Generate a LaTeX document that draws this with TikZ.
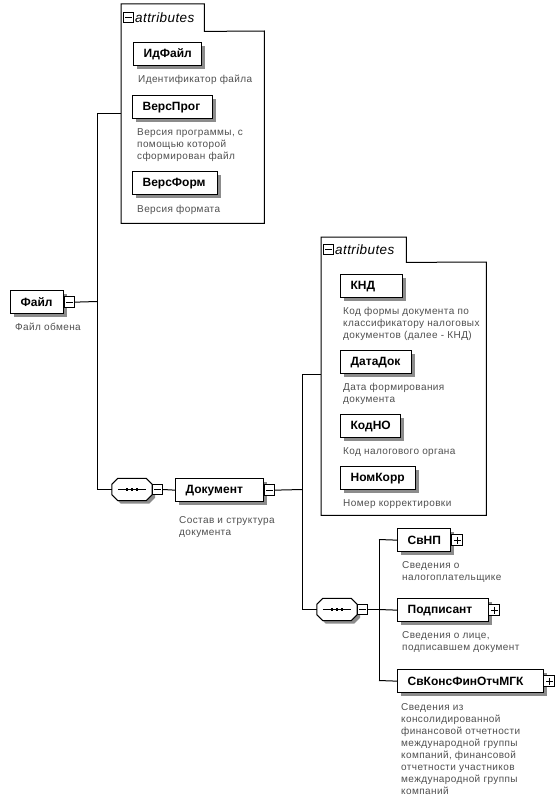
\documentclass[tikz,border=0pt]{standalone}
\usepackage{fontspec}
\setmainfont{Liberation Sans}
\newfontfamily\descfont[LetterSpace=4]{Liberation Sans}
\newfontfamily\tabfont[LetterSpace=3]{Liberation Sans}
\usetikzlibrary{shapes.misc,shadows}
\definecolor{desccol}{HTML}{505050}
\tikzset{
  shad/.style={drop shadow={shadow xshift=3pt, shadow yshift=-3pt, fill=black!45, opacity=1}},
  elem/.style={draw=black, line width=1.3pt, fill=white, anchor=north west,
    minimum height=23pt, inner xsep=10pt, inner ysep=0pt, text width=#1, align=left,
    font=\fontsize{12}{14}\selectfont\bfseries, shad},
  desc/.style={anchor=north west, inner sep=0pt, align=left, text=desccol,
    font=\descfont\fontsize{10}{12}\selectfont},
  sqm/.style={draw=black, line width=0.9pt, fill=white, minimum size=10.5pt, inner sep=0pt,
    path picture={\draw[line width=1.1pt] ([xshift=2pt]path picture bounding box.west) -- ([xshift=-2pt]path picture bounding box.east);}},
  sqp/.style={draw=black, line width=0.9pt, fill=white, minimum size=11pt, inner sep=0pt,
    path picture={\draw[line width=1.1pt] ([xshift=2pt]path picture bounding box.west) -- ([xshift=-2pt]path picture bounding box.east);
      \draw[line width=1.1pt] ([yshift=-2pt]path picture bounding box.north) -- ([yshift=2pt]path picture bounding box.south);}},
  seqbox/.style={rectangle, minimum width=40pt, minimum height=22pt, inner sep=0pt},
  seqline/.style={draw=black, line width=1pt, fill=white, shad},
  frame/.style={line width=1pt, draw=black},
  conn/.style={line width=1pt, draw=black},
  tabtext/.style={anchor=west, inner sep=0pt, font=\tabfont\fontsize{13.5}{15}\selectfont\itshape},
  area/.style={anchor=north west, inner sep=0pt},
}
\newcommand\seqshape[1]{%
  \path[seqline] ([xshift=6pt]#1.north west) -- ([xshift=-6pt]#1.north east)
    -- ([yshift=-6pt]#1.north east) -- ([yshift=6pt]#1.south east)
    -- ([xshift=-6pt]#1.south east) -- ([xshift=6pt]#1.south west)
    -- ([yshift=6pt]#1.south west) -- ([yshift=-6pt]#1.north west) -- cycle;
  \draw[line width=0.8pt] ([xshift=6pt]#1.west) -- ([xshift=-6pt]#1.east);
  \foreach \d in {-5,0,5} \fill ([xshift=\d pt]#1.center) +(-1.4,-1.5) rectangle +(1.4,1.5);}
\begin{document}
\begin{tikzpicture}[x=1pt,y=-1pt]
\useasboundingbox[fill=white] (0,0) rectangle (558,808);

% ---------- attributes box 1 ----------
\node[area, minimum width=83pt, minimum height=27pt] (tab1) at (121,4) {};
\node[area, minimum width=143pt, minimum height=192pt] (body1) at (121,31) {};
\draw[frame] (tab1.south west) -- (tab1.north west) -- (tab1.north east) -- (tab1.south east)
  -- (body1.north east) -- (body1.south east) -- (body1.south west) -- cycle;
\node[sqm] (tm1) at (128.5,17.5) {};
\node[tabtext] (tt1) at (135,17.5) {attributes};

\node[elem=48pt] (idf) at (133,42) {ИдФайл};
\node[desc] (didf) at (138,74) {\strut Идентификатор файла};
\node[elem=60pt] (vprog) at (132,95) {ВерсПрог};
\node[desc] (dvprog) at (137,127) {\strut Версия программы, с\\помощью которой\\сформирован файл};
\node[elem=65pt] (vform) at (132,171) {ВерсФорм};
\node[desc] (dvform) at (137,204) {\strut Версия формата};

% ---------- root ----------
\node[elem=33pt] (file) at (10,290) {Файл};
\node[sqm] (fm) at ([xshift=5pt]file.east) {};
\node[desc] (dfile) at (15,322) {\strut Файл обмена};

\coordinate (t1top) at (97,113);
\coordinate (t1mid) at (97,301.5);
\coordinate (t1bot) at (97,489.5);
\draw[conn] (t1top) -- (t1bot);
\draw[conn] (t1top) -- (t1top -| body1.west);
\draw[conn] (fm.east) -- (t1mid);

% ---------- sequence 1 and Документ ----------
\node[seqbox] (s1) at (132,489.5) {};
\seqshape{s1}
\node[sqm] (s1m) at (157.5,489.5) {};
\draw[conn] (t1bot) -- (s1.west);
\node[elem=68pt] (doc) at (175,478) {Документ};
\node[sqm] (docm) at ([xshift=5pt]doc.east) {};
\draw[conn] (s1m.east) -- (doc.west);
\node[desc] (ddoc) at (179,515) {\strut Состав и структура\\документа};

\coordinate (t2top) at (302,374);
\coordinate (t2mid) at (302,489.5);
\coordinate (t2bot) at (302,609.5);
\draw[conn] (docm.east) -- (t2mid);
\draw[conn] (t2top) -- (t2bot);

% ---------- attributes box 2 ----------
\node[area, minimum width=85pt, minimum height=25pt] (tab2) at (321,237) {};
\node[area, minimum width=165pt, minimum height=253pt] (body2) at (321,262) {};
\draw[frame] (tab2.south west) -- (tab2.north west) -- (tab2.north east) -- (tab2.south east)
  -- (body2.north east) -- (body2.south east) -- (body2.south west) -- cycle;
\node[sqm] (tm2) at (328.5,249.5) {};
\node[tabtext] (tt2) at (335,249.5) {attributes};
\draw[conn] (t2top) -- (t2top -| body2.west);

\node[elem=42pt] (knd) at (340,274) {КНД};
\node[desc] (dknd) at (343,306) {\strut Код формы документа по\\классификатору налоговых\\документов (далее - КНД)};
\node[elem=51pt] (datadok) at (340,350) {ДатаДок};
\node[desc] (ddatadok) at (343,382) {\strut Дата формирования\\документа};
\node[elem=40pt] (kodno) at (340,414) {КодНО};
\node[desc] (dkodno) at (343,446) {\strut Код налогового органа};
\node[elem=55pt] (nomkorr) at (340,466) {НомКорр};
\node[desc] (dnomkorr) at (343,498) {\strut Номер корректировки};

% ---------- sequence 2 and children ----------
\node[seqbox] (s2) at (337,609.5) {};
\seqshape{s2}
\node[sqm] (s2m) at (362.5,609.5) {};
\draw[conn] (t2bot) -- (s2.west);

\node[elem=33pt] (svnp) at (397,528) {СвНП};
\node[sqp] (svnpp) at ([xshift=6pt]svnp.east) {};
\node[desc] (dsvnp) at (402,560) {\strut Сведения о\\налогоплательщике};

\node[elem=71pt] (podp) at (397,598) {Подписант};
\node[sqp] (podpp) at ([xshift=5pt]podp.east) {};
\node[desc] (dpodp) at (402,630) {\strut Сведения о лице,\\подписавшем документ};

\node[elem=126pt] (svkons) at (397,669) {СвКонсФинОтчМГК};
\node[sqp] (svkonsp) at ([xshift=5pt]svkons.east) {};
\node[desc] (dsvkons) at (401,702) {\strut Сведения из\\консолидированной\\финансовой отчетности\\международной группы\\компаний, финансовой\\отчетности участников\\международной группы\\компаний};

\coordinate (t3top) at (379,539.5);
\coordinate (t3mid) at (379,609.5);
\coordinate (t3bot) at (379,680.5);
\draw[conn] (s2m.east) -- (t3mid);
\draw[conn] (t3top) -- (t3bot);
\draw[conn] (t3top) -- (svnp.west);
\draw[conn] (t3mid) -- (podp.west);
\draw[conn] (t3bot) -- (svkons.west);
\end{tikzpicture}
\end{document}
